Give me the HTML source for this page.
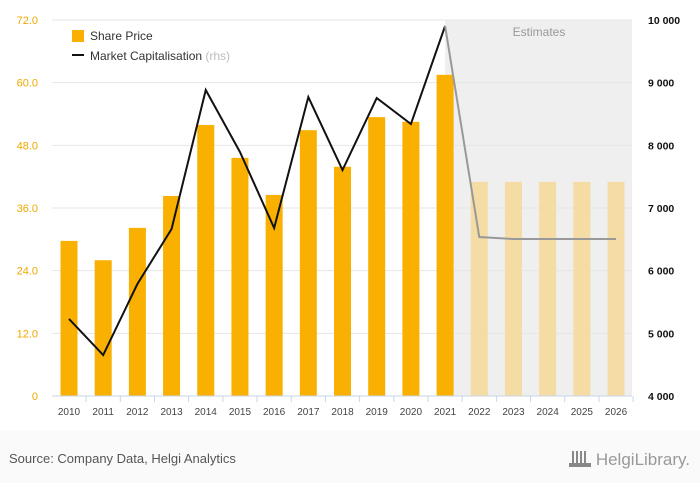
<!DOCTYPE html>
<html><head><meta charset="utf-8"><style>
body{margin:0;background:#fff;font-family:"Liberation Sans",sans-serif}
svg text{font-family:"Liberation Sans",sans-serif}
</style></head><body>
<svg id="c" width="700" height="483"></svg>
<script>
const years=["2010","2011","2012","2013","2014","2015","2016","2017","2018","2019","2020","2021","2022","2023","2024","2025","2026"];
const sharePrice=[29.7,26.0,32.2,38.3,51.9,45.6,38.5,50.9,43.9,53.4,52.5,61.5,41.0,41.0,41.0,41.0,41.0];
const marketCap=[5229,4654,5787,6665,8883,7894,6681,8771,7606,8755,8340,9904,6537,6505,6505,6505,6505];
const leftTicks=[0,12,24,36,48,60,72];
const leftTickLabels=["0","12.0","24.0","36.0","48.0","60.0","72.0"];
const rightTicks=[4000,5000,6000,7000,8000,9000,10000];
const rightTickLabels=["4 000","5 000","6 000","7 000","8 000","9 000","10 000"];
const firstEstimate=12;
const NS="http://www.w3.org/2000/svg";
const svg=document.getElementById('c');
const topY=20,bot=396,x0=69,step=34.19;
const yL=v=>bot-(v/72)*(bot-topY);
const yR=v=>bot-((v-4000)/6000)*(bot-topY);
const xC=i=>x0+i*step;
function el(t,a,p){const e=document.createElementNS(NS,t);for(const k in a)e.setAttribute(k,a[k]);(p||svg).appendChild(e);return e;}
el('rect',{x:0,y:430,width:700,height:53,fill:'#fafafa'});
const shade=el('rect',{x:xC(firstEstimate-1),y:topY,width:632-xC(firstEstimate-1),height:bot-topY,fill:'#efefef'});


const et=el('text',{x:539,y:36,'font-size':12,fill:'#999','text-anchor':'middle'});et.textContent='Estimates';


leftTicks.forEach((v,i)=>{
  const g=el('line',{x1:52,x2:632,y1:yL(v),y2:yL(v),stroke:'#e6e6e6'});
  
  
  const t=el('text',{x:38,y:yL(v)+4,'font-size':11,fill:'#f0a800','text-anchor':'end'});t.textContent=leftTickLabels[i];
  
  
});
rightTicks.forEach((v,i)=>{
  const t=el('text',{x:648,y:yR(v)+4,'font-size':10.5,'font-weight':'bold',fill:'#111'});t.textContent=rightTickLabels[i];
  
  
});
years.forEach((y,i)=>{
  const v=sharePrice[i];
  const b=el('rect',{x:xC(i)-8.5,y:yL(v),width:17,height:bot-yL(v),fill:i>=firstEstimate?'#f5dca4':'#f9b000'});
  
  
  const t=el('text',{x:xC(i),y:415,'font-size':10,fill:'#444','text-anchor':'middle'});t.textContent=y;
  
  
  el('line',{x1:xC(i)+step/2,x2:xC(i)+step/2,y1:bot,y2:bot+6,stroke:'#c8d4e8'});
});
el('line',{x1:52,x2:632,y1:bot,y2:bot,stroke:'#c8d4e8'});
let p1='',p2='';
marketCap.forEach((v,i)=>{
  const pt=xC(i)+','+yR(v);
  if(i<=firstEstimate-1)p1+=(p1?' L':'M')+pt;
  if(i>=firstEstimate-1)p2+=(p2?' L':'M')+pt;
});
const l1=el('path',{d:p1,fill:'none',stroke:'#111','stroke-width':2});


const l2=el('path',{d:p2,fill:'none',stroke:'#999','stroke-width':2});


const lg=el('g',{});


el('rect',{x:72,y:30,width:12,height:12,fill:'#f9b000'},lg);
const lt1=el('text',{x:90,y:40,'font-size':12,fill:'#333'},lg);lt1.textContent='Share Price';
el('rect',{x:72,y:54,width:12,height:2,fill:'#111'},lg);
const lt2=el('text',{x:90,y:60,'font-size':12,fill:'#333'},lg);lt2.textContent='Market Capitalisation ';
const ts=el('tspan',{fill:'#bbb'},lt2);ts.textContent='(rhs)';
const src=el('text',{x:9,y:463,'font-size':13,fill:'#555'});src.textContent='Source: Company Data, Helgi Analytics';


const lgc=el('g',{fill:'#888'});


[0,4,8,12].forEach(d=>el('rect',{x:572+d,y:451,width:2,height:14},lgc));
el('rect',{x:569,y:463,width:22,height:4},lgc);
const hl=el('text',{x:690,y:465,'font-size':17,fill:'#999','text-anchor':'end','font-family':'Liberation Serif'});hl.textContent='HelgiLibrary.';


</script>
</body></html>
